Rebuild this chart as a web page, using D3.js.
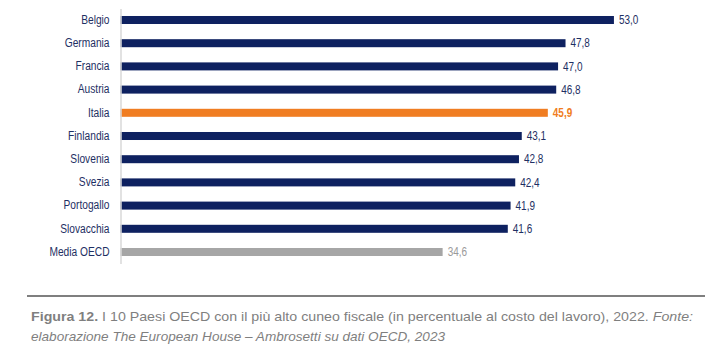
<!DOCTYPE html>
<html>
<head>
<meta charset="utf-8">
<script src="https://cdn.jsdelivr.net/npm/d3@7"></script>
<style>
  html, body { margin: 0; padding: 0; background: #ffffff; }
  svg { display: block; }
</style>
</head>
<body>
<svg id="chart" width="727" height="356"></svg>
<script>
const categories = ["Belgio", "Germania", "Francia", "Austria", "Italia", "Finlandia", "Slovenia", "Svezia", "Portogallo", "Slovacchia", "Media OECD"];
const values = [53.0, 47.8, 47.0, 46.8, 45.9, 43.1, 42.8, 42.4, 41.9, 41.6, 34.6];
const highlight = ["Italia"];
const average = ["Media OECD"];
const captionBold = "Figura 12.";
const captionLine1 = " I 10 Paesi OECD con il più alto cuneo fiscale (in percentuale al costo del lavoro), 2022. ";
const captionLine1It = "Fonte:";
const captionLine2 = "elaborazione The European House \u2013 Ambrosetti su dati OECD, 2023";

const NAVY = "#0e2160", ORANGE = "#f07d22", GREY = "#a6a6a6";
const TEXT_NAVY = "#1e2f63", CAPTION = "#7f7f7f";
const FONT = "'Liberation Sans', Arial, Helvetica, sans-serif";

const svg = d3.select("#chart");
const data = categories.map((c, i) => ({ cat: c, val: values[i] }));

const x = d3.scaleLinear().domain([0, 60]).range([120.5, 120.5 + 60 * 9.31]);
const y = d3.scaleBand().domain(categories).range([8.4, 263.6])
  .paddingInner(0.655).paddingOuter(0.3275);

function colorOf(d) {
  if (highlight.includes(d.cat)) return ORANGE;
  if (average.includes(d.cat)) return GREY;
  return NAVY;
}
function textColorOf(d) {
  if (highlight.includes(d.cat)) return ORANGE;
  if (average.includes(d.cat)) return "#9a9a9a";
  return TEXT_NAVY;
}
function condense(sel, k) {
  sel.each(function () {
    const w = this.getComputedTextLength();
    d3.select(this).attr("textLength", w * k).attr("lengthAdjust", "spacingAndGlyphs");
  });
}

// bars
svg.append("g").selectAll("rect").data(data).join("rect")
  .attr("x", x(0))
  .attr("y", d => y(d.cat))
  .attr("width", d => x(d.val) - x(0))
  .attr("height", y.bandwidth())
  .attr("fill", colorOf);

// axis (vertical line + category labels)
const axis = d3.axisLeft(y).tickSize(0).tickPadding(11);
const gAxis = svg.append("g").attr("transform", `translate(${x(0)},0)`).call(axis);
gAxis.select(".domain").attr("stroke", "#d9d9d9").attr("stroke-width", 1.5);
gAxis.selectAll(".tick text")
  .attr("font-family", FONT).attr("font-size", 12)
  .attr("fill", TEXT_NAVY)
  .call(condense, 0.85);

// value labels
const fmt = v => d3.format(".1f")(v).replace(".", ",");
svg.append("g").selectAll("text").data(data).join("text")
  .attr("x", d => x(d.val) + 5)
  .attr("y", d => y(d.cat) + y.bandwidth() / 2)
  .attr("dy", "0.35em")
  .attr("font-family", FONT).attr("font-size", 12)
  .attr("font-weight", d => highlight.includes(d.cat) ? "bold" : "normal")
  .attr("fill", textColorOf)
  .text(d => fmt(d.val))
  .call(condense, 0.83);

// separator
svg.append("line").attr("x1", 27).attr("x2", 705).attr("y1", 296).attr("y2", 296)
  .attr("stroke", "#7f7f7f").attr("stroke-width", 2);

// caption
const t1 = svg.append("text").attr("x", 31).attr("y", 321)
  .attr("font-family", FONT).attr("font-size", 13).attr("fill", CAPTION);
t1.append("tspan").attr("font-weight", "bold").text(captionBold);
t1.append("tspan").text(captionLine1);
t1.append("tspan").attr("font-style", "italic").text(captionLine1It);
t1.attr("textLength", 662).attr("lengthAdjust", "spacingAndGlyphs");

const t2 = svg.append("text").attr("x", 31).attr("y", 341)
  .attr("font-family", FONT).attr("font-size", 13).attr("fill", CAPTION)
  .attr("font-style", "italic").text(captionLine2);
t2.attr("textLength", 414).attr("lengthAdjust", "spacingAndGlyphs");
</script>
</body>
</html>
